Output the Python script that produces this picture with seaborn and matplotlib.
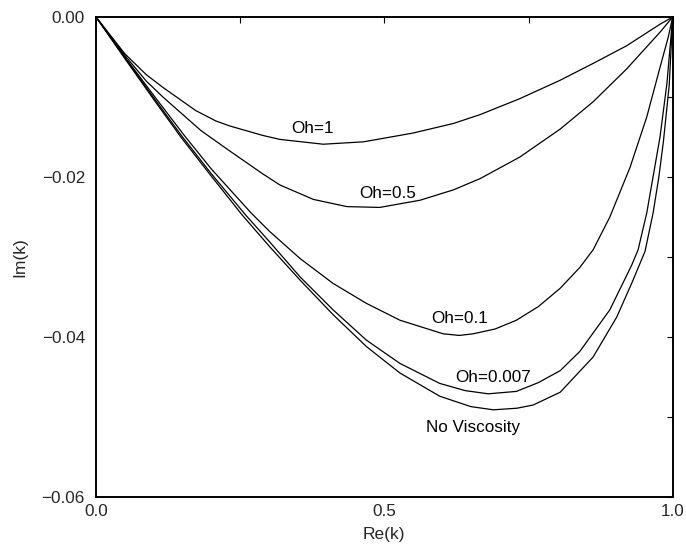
import numpy as np
import pandas as pd
import matplotlib
matplotlib.use("Agg")
import matplotlib.pyplot as plt
import seaborn as sns
from matplotlib.ticker import MultipleLocator, FixedLocator

# ---- data ----
re_1 = [0.0, 0.05, 0.087, 0.116, 0.173, 0.208, 0.231, 0.289, 0.319, 0.394, 0.464, 0.550, 0.620, 0.666, 0.735, 0.805, 0.862, 0.920, 0.978, 1.0]
im_1 = [0.0, -0.0046, -0.0072, -0.0088, -0.0117, -0.0130, -0.0136, -0.0148, -0.0153, -0.0159, -0.0156, -0.0145, -0.0133, -0.0122, -0.0102, -0.0079, -0.0058, -0.0036, -0.0009, 0.0]

re_05 = [0.0, 0.05, 0.087, 0.116, 0.182, 0.231, 0.289, 0.319, 0.377, 0.435, 0.492, 0.562, 0.620, 0.666, 0.735, 0.805, 0.862, 0.920, 0.978, 1.0]
im_05 = [0.0, -0.0048, -0.0080, -0.0100, -0.0142, -0.0167, -0.0196, -0.0210, -0.0228, -0.0237, -0.0238, -0.0229, -0.0216, -0.0202, -0.0175, -0.0140, -0.0106, -0.0065, -0.0019, 0.0]

re_01 = [0.0, 0.05, 0.10, 0.153, 0.20, 0.269, 0.301, 0.354, 0.411, 0.469, 0.527, 0.602, 0.630, 0.654, 0.692, 0.729, 0.767, 0.805, 0.839, 0.862, 0.891, 0.926, 0.955, 0.978, 0.992, 1.0]
im_01 = [0.0, -0.0050, -0.0098, -0.0148, -0.0190, -0.0245, -0.0268, -0.0302, -0.0333, -0.0358, -0.0379, -0.0396, -0.0398, -0.0396, -0.0390, -0.0379, -0.0362, -0.0339, -0.0313, -0.0291, -0.0250, -0.0188, -0.0125, -0.0063, -0.0026, 0.0]

re_0007 = [0.0, 0.05, 0.10, 0.150, 0.20, 0.26, 0.301, 0.354, 0.411, 0.469, 0.527, 0.596, 0.640, 0.680, 0.729, 0.767, 0.805, 0.839, 0.891, 0.929, 0.940, 0.955, 0.978, 0.990, 1.0]
im_0007 = [0.0, -0.0051, -0.0101, -0.0150, -0.0196, -0.0248, -0.0281, -0.0325, -0.0366, -0.0404, -0.0433, -0.0458, -0.0467, -0.0471, -0.0468, -0.0457, -0.0442, -0.0418, -0.0366, -0.0310, -0.0291, -0.0245, -0.0150, -0.0083, 0.0]

re_nv = [0.0, 0.05, 0.10, 0.147, 0.20, 0.254, 0.301, 0.354, 0.411, 0.469, 0.527, 0.596, 0.650, 0.689, 0.730, 0.758, 0.805, 0.862, 0.903, 0.930, 0.952, 0.966, 0.976, 0.984, 0.994, 1.0]
im_nv = [0.0, -0.0052, -0.0103, -0.0150, -0.0199, -0.0248, -0.0287, -0.0329, -0.0372, -0.0412, -0.0445, -0.0474, -0.0487, -0.0491, -0.0489, -0.0485, -0.0469, -0.0425, -0.0375, -0.0331, -0.0293, -0.0245, -0.0200, -0.0155, -0.0085, 0.0]

series_names = ["Oh=1", "Oh=0.5", "Oh=0.1", "Oh=0.007", "No Viscosity"]
label_re = [0.375, 0.505, 0.630, 0.688, 0.654]
label_im = [-0.0139, -0.0221, -0.0377, -0.0450, -0.05135]

x_ticks = [0.0, 0.5, 1.0]
x_ticklabels = ["0.0", "0.5", "1.0"]
y_ticks = [0.0, -0.02, -0.04, -0.06]
y_ticklabels = ["0.00", "\u22120.02", "\u22120.04", "\u22120.06"]

frames = []
for name, xs, ys in zip(series_names,
                        [re_1, re_05, re_01, re_0007, re_nv],
                        [im_1, im_05, im_01, im_0007, im_nv]):
    frames.append(pd.DataFrame({"Re": xs, "Im": ys, "series": name}))
df = pd.concat(frames, ignore_index=True)

sns.set_theme(style="white")
plt.rcParams["font.family"] = ["Liberation Sans", "DejaVu Sans"]

fig = plt.figure(figsize=(6.86, 5.49), dpi=100)
ax = fig.add_axes([0.140, 0.0947, 0.8406, 0.8743])

sns.lineplot(data=df, x="Re", y="Im", hue="series", sort=False,
             palette=["black"] * 5, linewidth=0.9, legend=False, ax=ax)

for name, lx, ly in zip(series_names, label_re, label_im):
    ax.text(lx, ly, name, ha="center", va="center", fontsize=12.3, color="black")

ax.set_xlim(0, 1)
ax.set_ylim(-0.06, 0)
ax.xaxis.set_major_locator(FixedLocator(x_ticks))
ax.set_xticklabels(x_ticklabels)
ax.yaxis.set_major_locator(FixedLocator(y_ticks))
ax.set_yticklabels(y_ticklabels)
ax.xaxis.set_minor_locator(MultipleLocator(0.25))
ax.yaxis.set_minor_locator(MultipleLocator(0.01))
ax.tick_params(which="both", direction="in", top=True, right=True,
               length=4, width=0.8, color="black", labelsize=12.3)
ax.tick_params(axis="x", pad=5)
ax.tick_params(axis="y", pad=8)
for s in ax.spines.values():
    s.set_color("black")
    s.set_linewidth(1.4)

ax.set_xlabel("Re(k)", fontsize=12.5, labelpad=6)
ax.set_ylabel("Im(k)", fontsize=12.5, labelpad=10)

fig.savefig("out.png", dpi=100)
